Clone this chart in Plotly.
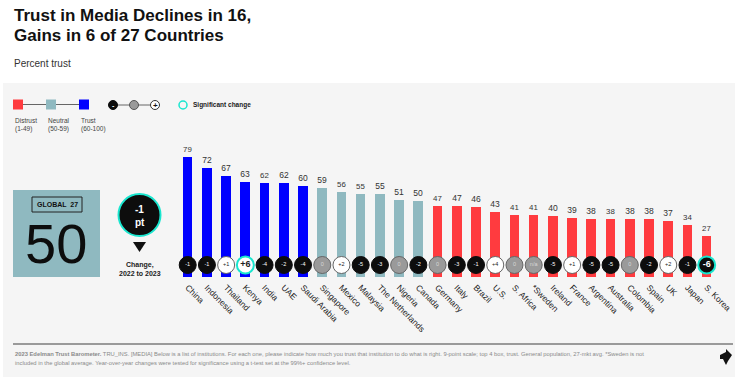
import plotly.graph_objects as go

W, H = 735, 377

countries = ["China", "Indonesia", "Thailand", "Kenya", "India", "UAE", "Saudi Arabia",
             "Singapore", "Mexico", "Malaysia", "The Netherlands", "Nigeria", "Canada",
             "Germany", "Italy", "Brazil", "U.S.", "S. Africa", "*Sweden", "Ireland",
             "France", "Argentina", "Australia", "Colombia", "Spain", "UK", "Japan", "S. Korea"]
trust = [79, 72, 67, 63, 62, 62, 60, 59, 56, 55, 55, 51, 50, 47, 47, 46, 43, 41, 41, 40,
         39, 38, 38, 38, 38, 37, 34, 27]
change = ["-1", "-1", "+1", "+6", "-4", "-2", "-4", "0", "+2", "-5", "-3", "0", "-2", "0",
          "-3", "-1", "+4", "0", "n/a", "-5", "+1", "-5", "-5", "0", "-2", "+2", "-1", "-6"]
significant = ["Kenya", "S. Korea"]
global_value = 50
global_change = "-1"

RED = "#ff3b3f"
NEUTRAL = "#8fb9c0"
BLUE = "#0000ff"
CYAN = "#19e6cf"
FONT = "Liberation Sans, Arial, sans-serif"


def X(px):
    return px / W


def Y(py):
    return 1 - py / H


def bar_color(v):
    if v >= 60:
        return BLUE
    if v >= 50:
        return NEUTRAL
    return RED


n = len(countries)
xs = list(range(n))
bar_colors = [bar_color(v) for v in trust]

fill, line_c, line_w, txt, txt_c, txt_s = [], [], [], [], [], []
for c, ch in zip(countries, change):
    sig = c in significant
    if ch.startswith("-"):
        f, tc = "#0d0d0d", "#ffffff"
    elif ch.startswith("+"):
        f, tc = "#ffffff", "#222222"
    else:
        f, tc = "#9a9a9a", "#d8d8d8"
    fill.append(f)
    txt_c.append(tc)
    if sig:
        line_c.append(CYAN)
        line_w.append(2)
        txt.append("<b>" + ch + "</b>")
        txt_s.append(9)
    else:
        line_c.append("#0d0d0d" if ch.startswith("-") else "#666666")
        line_w.append(1)
        txt.append(ch)
        txt_s.append(5.5)

# axis geometry
base_px = 277
top_px = 140
px_per_unit = 1.515
ymax = (base_px - top_px) / px_per_unit
x0_px, x1_px = 187.7, 706.7
step = (x1_px - x0_px) / (n - 1)
dom_l = X(x0_px - step / 2)
dom_r = X(x1_px + step / 2)

circle_y = 12 / px_per_unit

fig = go.Figure()
fig.add_trace(go.Bar(
    x=xs, y=trust, marker=dict(color=bar_colors, line=dict(width=0)), width=0.5,
    text=[str(v) for v in trust], textposition="outside",
    textfont=dict(family=FONT, size=8.5, color="#333333"), cliponaxis=False,
    hoverinfo="skip"))
fig.add_trace(go.Scatter(
    x=xs, y=[circle_y] * n, mode="markers+text", text=txt,
    textposition="middle center",
    textfont=dict(family=FONT, size=txt_s, color=txt_c),
    marker=dict(size=17, color=fill, line=dict(color=line_c, width=line_w)),
    cliponaxis=False, hoverinfo="skip"))

shapes = []
ann = []

# gray panel
shapes.append(dict(type="rect", xref="paper", yref="paper", x0=X(3), x1=X(735), y0=Y(377), y1=Y(83),
                   fillcolor="#f5f5f5", line=dict(width=0), layer="below"))

# title
ann.append(dict(text="<b>Trust in Media Declines in 16,</b>", x=X(12), y=Y(16), xanchor="left",
                yanchor="middle", font=dict(family=FONT, size=17, color="#111111")))
ann.append(dict(text="<b>Gains in 6 of 27 Countries</b>", x=X(12), y=Y(36), xanchor="left",
                yanchor="middle", font=dict(family=FONT, size=17, color="#111111")))
ann.append(dict(text="Percent trust", x=X(12), y=Y(63), xanchor="left", yanchor="middle",
                font=dict(family=FONT, size=10, color="#333333")))

# legend: squares
shapes.append(dict(type="line", xref="paper", yref="paper", x0=X(18), x1=X(84), y0=Y(104.5), y1=Y(104.5),
                   line=dict(color="#666666", width=1)))
for cx, col, l1, l2 in [(18, RED, "Distrust", "(1-49)"), (51, NEUTRAL, "Neutral", "(50-59)"),
                        (84, BLUE, "Trust", "(60-100)")]:
    shapes.append(dict(type="rect", xref="paper", yref="paper", x0=X(cx - 5), x1=X(cx + 5),
                       y0=Y(109.5), y1=Y(99.5), fillcolor=col, line=dict(width=0)))
    ann.append(dict(text=l1 + "<br>" + l2, x=X(cx - 5), y=Y(115), xanchor="left", yanchor="top",
                    align="left", font=dict(family=FONT, size=6.5, color="#444444")))

# legend: change circles
shapes.append(dict(type="line", xref="paper", yref="paper", x0=X(113), x1=X(155), y0=Y(105), y1=Y(105),
                   line=dict(color="#666666", width=1)))
for cx, f, lc in [(113, "#0d0d0d", "#0d0d0d"), (134, "#9a9a9a", "#555555"), (155, "#ffffff", "#333333")]:
    shapes.append(dict(type="circle", xref="paper", yref="paper", x0=X(cx - 4.5), x1=X(cx + 4.5),
                       y0=Y(109.5), y1=Y(100.5), fillcolor=f, line=dict(color=lc, width=1)))
ann.append(dict(text="<b>-</b>", x=X(113), y=Y(105),
                font=dict(family=FONT, size=7, color="#ffffff")))
ann.append(dict(text="<b>+</b>", x=X(155), y=Y(105),
                font=dict(family=FONT, size=8, color="#111111")))
shapes.append(dict(type="circle", xref="paper", yref="paper", x0=X(179), x1=X(187),
                   y0=Y(109), y1=Y(101), fillcolor="rgba(0,0,0,0)", line=dict(color=CYAN, width=1.5)))
ann.append(dict(text="<b>Significant change</b>", x=X(191), y=Y(105), xanchor="left", yanchor="middle",
                font=dict(family=FONT, size=6.5, color="#222222")))

# global box
shapes.append(dict(type="rect", xref="paper", yref="paper", x0=X(13), x1=X(100), y0=Y(277), y1=Y(190),
                   fillcolor=NEUTRAL, line=dict(width=0)))
shapes.append(dict(type="rect", xref="paper", yref="paper", x0=X(32), x1=X(82), y0=Y(212), y1=Y(197),
                   fillcolor="rgba(0,0,0,0)", line=dict(color="#222222", width=1)))
ann.append(dict(text="<b>GLOBAL  27</b>", x=X(57), y=Y(204.5),
                font=dict(family=FONT, size=7, color="#111111")))
ann.append(dict(text=str(global_value), x=X(55.5), y=Y(243),
                font=dict(family=FONT, size=56, color="#0d0d0d")))

# global change circle
shapes.append(dict(type="circle", xref="paper", yref="paper", x0=X(118.5), x1=X(160.5),
                   y0=Y(236), y1=Y(194), fillcolor="#0d0d0d", line=dict(color=CYAN, width=2)))
ann.append(dict(text="<b>" + global_change + "</b>", x=X(139.5), y=Y(209),
                font=dict(family=FONT, size=10, color="#ffffff")))
ann.append(dict(text="<b>pt</b>", x=X(139.5), y=Y(222),
                font=dict(family=FONT, size=10, color="#ffffff")))
shapes.append(dict(type="path", xref="paper", yref="paper",
                   path="M {} {} L {} {} L {} {} Z".format(X(133), Y(242), X(146), Y(242), X(139.5), Y(252)),
                   fillcolor="#111111", line=dict(width=0)))
ann.append(dict(text="<b>Change,</b>", x=X(139.5), y=Y(264.5),
                font=dict(family=FONT, size=7, color="#222222")))
ann.append(dict(text="<b>2022 to 2023</b>", x=X(139.5), y=Y(273),
                font=dict(family=FONT, size=7, color="#222222")))

# footer
shapes.append(dict(type="line", xref="paper", yref="paper", x0=X(13), x1=X(733), y0=Y(344), y1=Y(344),
                   line=dict(color="#9a9a9a", width=2)))
ann.append(dict(text="<b>2023 Edelman Trust Barometer.</b> TRU_INS. [MEDIA] Below is a list of institutions. "
                     "For each one, please indicate how much you trust that institution to do what is right. "
                     "9-point scale; top 4 box, trust. General population, 27-mkt avg. *Sweden is not",
                x=X(13), y=Y(354), xanchor="left", yanchor="middle",
                font=dict(family=FONT, size=5.8, color="#8a8a8a")))
ann.append(dict(text="included in the global average. Year-over-year changes were tested for significance "
                     "using a t-test set at the 99%+ confidence level.",
                x=X(13), y=Y(363), xanchor="left", yanchor="middle",
                font=dict(family=FONT, size=5.8, color="#8a8a8a")))
# arrow icon
ap = [(720, 355), (726, 352), (726, 349), (732, 355), (728, 361), (726, 365), (723, 359), (720, 359)]
path = "M " + " L ".join("{} {}".format(X(a), Y(b)) for a, b in ap) + " Z"
shapes.append(dict(type="path", xref="paper", yref="paper", path=path, fillcolor="#111111",
                   line=dict(width=0)))

for a in ann:
    a.setdefault("showarrow", False)
    a.setdefault("xref", "paper")
    a.setdefault("yref", "paper")
    a.setdefault("xanchor", "center")
    a.setdefault("yanchor", "middle")

fig.update_layout(
    width=W, height=H, margin=dict(l=0, r=0, t=0, b=0),
    paper_bgcolor="#ffffff", plot_bgcolor="rgba(0,0,0,0)",
    showlegend=False, shapes=shapes, annotations=ann, bargap=0,
    xaxis=dict(domain=[dom_l, dom_r], range=[-0.5, n - 0.5], tickmode="array", tickvals=xs,
               ticktext=countries, tickangle=45, showgrid=False, zeroline=False, showline=False,
               ticks="", ticklabelstandoff=3,
               tickfont=dict(family=FONT, size=8.5, color="#1a1a1a"), automargin=False),
    yaxis=dict(domain=[Y(base_px), Y(top_px)], range=[0, ymax], visible=False, automargin=False),
)

fig.write_html("out.html")
